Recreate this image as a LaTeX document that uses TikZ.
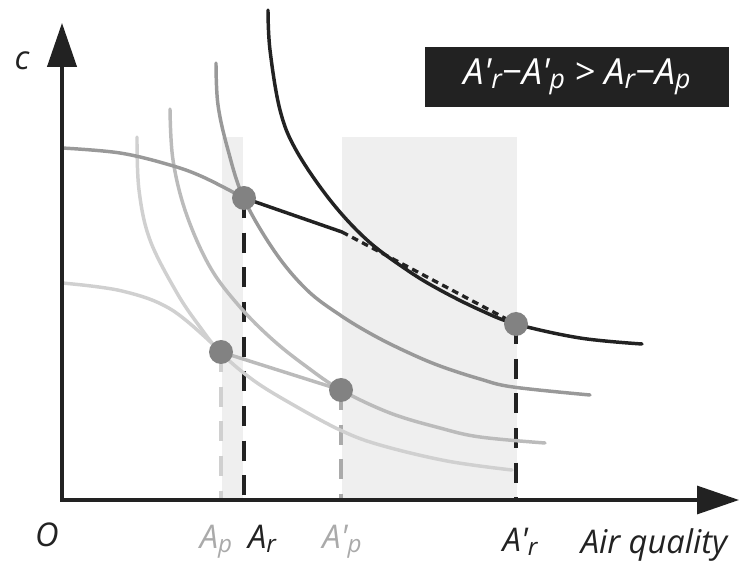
\documentclass[tikz,border=0pt]{standalone}
\usepackage{fontspec}
\setmainfont{Open Sans}
\usetikzlibrary{arrows.meta}
\definecolor{ink}{HTML}{222222}
\definecolor{midgray}{HTML}{999999}
\definecolor{ltgray}{HTML}{BBBBBB}
\definecolor{pale}{HTML}{D0D0D0}
\definecolor{bandgray}{HTML}{EFEFEF}
\definecolor{dotc}{HTML}{828282}
\definecolor{lbgray}{HTML}{AAAAAA}
\newcommand{\sbs}[1]{\raisebox{-0.12em}{\scalebox{0.74}{#1}}}
\newcommand{\pri}{\textquotesingle}
\begin{document}
\begin{tikzpicture}[x=0.75pt,y=-0.75pt,
  curve/.style={line width=2.6pt, line cap=round},
  dropline/.style={line width=2.4pt, dash pattern=on 15pt off 11pt},
  dotpt/.style={circle, fill=dotc, inner sep=0pt, minimum size=18pt},
  lbl/.style={font=\fontsize{24.5}{28}\selectfont\itshape, inner sep=0pt, anchor=base}
]
\useasboundingbox (0,0) rectangle (744,570);
% shaded bands
\fill[bandgray] (222,137) rectangle (243,500);
\fill[bandgray] (342,137) rectangle (517,500);
% key coordinates
\coordinate (O) at (62,500);
\coordinate (P1) at (244,198);
\coordinate (P2) at (221,352);
\coordinate (P3) at (341,390);
\coordinate (P4) at (516,324);
\coordinate (K) at (342,232);
\coordinate (F1) at (244,500);
\coordinate (F2) at (221,500);
\coordinate (F3) at (341,500);
\coordinate (F4) at (516,500);
\coordinate (YT) at (62,23);
\coordinate (XT) at (739,500);
% drop lines
\draw[dropline, ink] (P1) -- (F1);
\draw[dropline, pale] (P2) -- (F2);
\draw[dropline, lbgray] (P3) -- (F3);
\draw[dropline, ink] (P4) -- (F4);
% lower frontier
\draw[curve, pale] plot[smooth, tension=0.6] coordinates {(62,283) (122,291) (172,310) (221,352)};
\draw[curve, ltgray] (P2) -- (P3);
% indifference curves
\draw[curve, pale] plot[smooth, tension=0.6] coordinates {(137,137) (139,190) (150,240) (177,293) (200,327) (221,353) (253,380) (290,403) (340,430) (380,445) (447,461) (512,470)};
\draw[curve, ltgray] plot[smooth, tension=0.6] coordinates {(170,109) (173,160) (186,213) (210,267) (240,307) (273,340) (307,367) (341,390) (390,413) (440,428) (480,437) (545,443)};
\draw[curve, midgray] plot[smooth, tension=0.6] coordinates {(216,63) (218,105) (228,150) (244,199) (275,252) (307,290) (340,315) (373,335) (407,352) (440,366) (480,379) (513,387) (590,395)};
% upper frontier
\draw[curve, midgray] plot[smooth, tension=0.6] coordinates {(62,148) (120,153) (170,165) (203,177) (244,198)};
\draw[curve, ink] (P1) -- (K);
\draw[ink, line width=2.5pt, dash pattern=on 5pt off 3.5pt] (K) -- (P4);
% top indifference curve
\draw[curve, ink] plot[smooth, tension=0.6] coordinates {(268,10) (270,50) (280,110) (296,150) (330,200) (367,240) (407,270) (440,290) (480,310) (516,324) (580,338) (642,344)};
% points
\node[dotpt] (d1) at (P1) {};
\node[dotpt] (d2) at (P2) {};
\node[dotpt] (d3) at (P3) {};
\node[dotpt] (d4) at (P4) {};
% axes
\draw[ink, line width=2.4pt, -{Triangle[length=33pt,width=22pt]}] (62,502) -- (YT);
\draw[ink, line width=2.4pt, -{Triangle[length=31.5pt,width=21pt]}] (60.3,500) -- (XT);
% labels
\node[lbl, text=ink] (lc) at (22,70) {c};
\node[lbl, text=ink] (lO) at (47,547) {O};
\node[lbl, text=lbgray] (lAp) at (216,549) {A\sbs{p}};
\node[lbl, text=ink] (lAr) at (262,549) {A\sbs{r}};
\node[lbl, text=lbgray] (lApp) at (342,549) {A\pri\sbs{p}};
\node[lbl, text=ink] (lArp) at (520,552) {A\pri\sbs{r}};
\node[lbl, text=ink] (lAQ) at (654,554) {Air quality};
% box
\node[fill=ink, minimum width=228pt, minimum height=45pt, inner sep=0pt, text=white,
      font=\fontsize{27}{30}\selectfont\itshape] (box) at (577,77)
  {A\pri\sbs{r}−A\pri\sbs{p} > A\sbs{r}−A\sbs{p}};
\end{tikzpicture}
\end{document}
